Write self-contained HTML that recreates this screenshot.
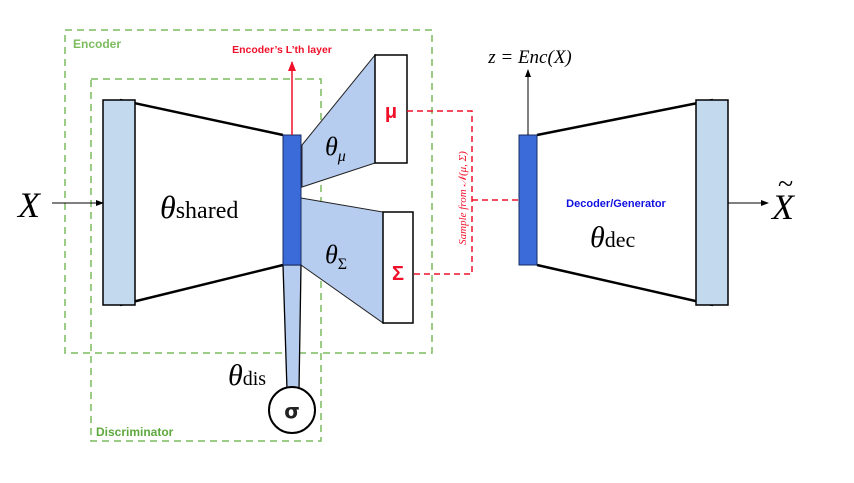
<!DOCTYPE html>
<html><head><style>body{margin:0;background:#fff}svg{display:block}</style></head><body>
<svg width="854" height="483" viewBox="0 0 854 483" xmlns="http://www.w3.org/2000/svg" font-family="Liberation Serif, serif">
<defs>
<marker id="ak" markerWidth="8" markerHeight="8" refX="7" refY="4" orient="auto" markerUnits="userSpaceOnUse"><path d="M0,1 L8,4 L0,7Z" fill="#000"/></marker>
<marker id="ar" markerWidth="10" markerHeight="10" refX="9" refY="5" orient="auto" markerUnits="userSpaceOnUse"><path d="M0,1 L10,5 L0,9Z" fill="#f0102a"/></marker>
</defs>
<rect x="65" y="30" width="367" height="323" fill="none" stroke="#7dbb5e" stroke-width="1.5" stroke-dasharray="7,5"/>
<rect x="91" y="79" width="230" height="362" fill="none" stroke="#7dbb5e" stroke-width="1.5" stroke-dasharray="7,5"/>
<text x="73" y="48" font-family="Liberation Sans, sans-serif" font-weight="bold" font-size="12" fill="#7dbb5e">Encoder</text>
<text x="96" y="436" font-family="Liberation Sans, sans-serif" font-weight="bold" font-size="12" fill="#5ea83e">Discriminator</text>
<line x1="120" y1="100" x2="283" y2="135" stroke="#000" stroke-width="2.5"/>
<line x1="120" y1="305" x2="283" y2="265" stroke="#000" stroke-width="2.5"/>
<rect x="103" y="100" width="32" height="205" fill="#c3d9ee" stroke="#000" stroke-width="1.5"/>
<polygon points="302,145 375,55 375,163 302,187" fill="#b7cdf0" stroke="#222" stroke-width="1"/>
<rect x="375" y="55" width="32" height="108" fill="#fff" stroke="#000" stroke-width="1.5"/>
<polygon points="301,198 383,212 383,323 301,265" fill="#b7cdf0" stroke="#222" stroke-width="1"/>
<rect x="383" y="212" width="30" height="111" fill="#fff" stroke="#000" stroke-width="1.5"/>
<polygon points="283,265 301,265 299,390 287,390" fill="#b7cdf0" stroke="#000" stroke-width="1.3"/>
<circle cx="292" cy="410" r="23" fill="#fff" stroke="#000" stroke-width="2"/>
<text x="292" y="418" text-anchor="middle" font-family="DejaVu Sans, sans-serif" font-weight="bold" font-size="20" fill="#222">σ</text>
<rect x="283" y="135" width="18" height="130" fill="#3a6bd8" stroke="#1a2a60" stroke-width="1"/>
<line x1="292" y1="135" x2="292" y2="62" stroke="#f0102a" stroke-width="1.5" marker-end="url(#ar)"/>
<text x="282" y="53" text-anchor="middle" font-family="Liberation Sans, sans-serif" font-weight="bold" font-size="10.5" fill="#f0102a">Encoder’s L’th layer</text>
<text x="391" y="118" text-anchor="middle" font-family="Liberation Sans, sans-serif" font-weight="bold" font-size="20" fill="#f0102a">μ</text>
<text x="398" y="280" text-anchor="middle" font-family="Liberation Sans, sans-serif" font-weight="bold" font-size="20" fill="#f0102a">Σ</text>
<path d="M407,111 H472 V274 H413 M472,200 H519" fill="none" stroke="#f0102a" stroke-width="1.5" stroke-dasharray="6,4"/>
<text transform="translate(466,198) rotate(-90)" text-anchor="middle" font-style="italic" font-size="11" fill="#f0102a">Sample from 𝒩(μ, Σ)</text>
<line x1="537" y1="135" x2="713" y2="100" stroke="#000" stroke-width="2.5"/>
<line x1="537" y1="265" x2="713" y2="305" stroke="#000" stroke-width="2.5"/>
<rect x="696" y="100" width="32" height="205" fill="#c3d9ee" stroke="#000" stroke-width="1.5"/>
<rect x="519" y="135" width="18" height="130" fill="#3a6bd8" stroke="#1a2a60" stroke-width="1"/>
<line x1="528" y1="135" x2="528" y2="70" stroke="#000" stroke-width="1" marker-end="url(#ak)"/>
<text x="530" y="63" text-anchor="middle" font-size="19" font-style="italic" fill="#000">z = Enc(X)</text>
<text x="616" y="207" text-anchor="middle" font-family="Liberation Sans, sans-serif" font-weight="bold" font-size="11" fill="#1010e0">Decoder/Generator</text>
<line x1="52" y1="203" x2="103" y2="203" stroke="#000" stroke-width="1" marker-end="url(#ak)"/>
<line x1="728" y1="203" x2="768" y2="203" stroke="#000" stroke-width="1" marker-end="url(#ak)"/>
<text x="18" y="217" font-size="36" font-style="italic">X</text>
<text x="772" y="219" font-size="36" font-style="italic">X</text>
<text x="778" y="193" font-size="28">~</text>
<text x="160" y="218" font-size="32" font-style="italic">θ<tspan font-style="normal" font-size="24">shared</tspan></text>
<text x="325" y="155" font-size="26" font-style="italic">θ<tspan font-size="16" dy="6">μ</tspan></text>
<text x="325" y="263" font-size="26" font-style="italic">θ<tspan font-style="normal" font-size="16" dy="6">Σ</tspan></text>
<text x="228" y="385" font-size="30" font-style="italic">θ<tspan font-style="normal" font-size="20">dis</tspan></text>
<text x="590" y="247" font-size="30" font-style="italic">θ<tspan font-style="normal" font-size="22">dec</tspan></text>
</svg>
</body></html>
